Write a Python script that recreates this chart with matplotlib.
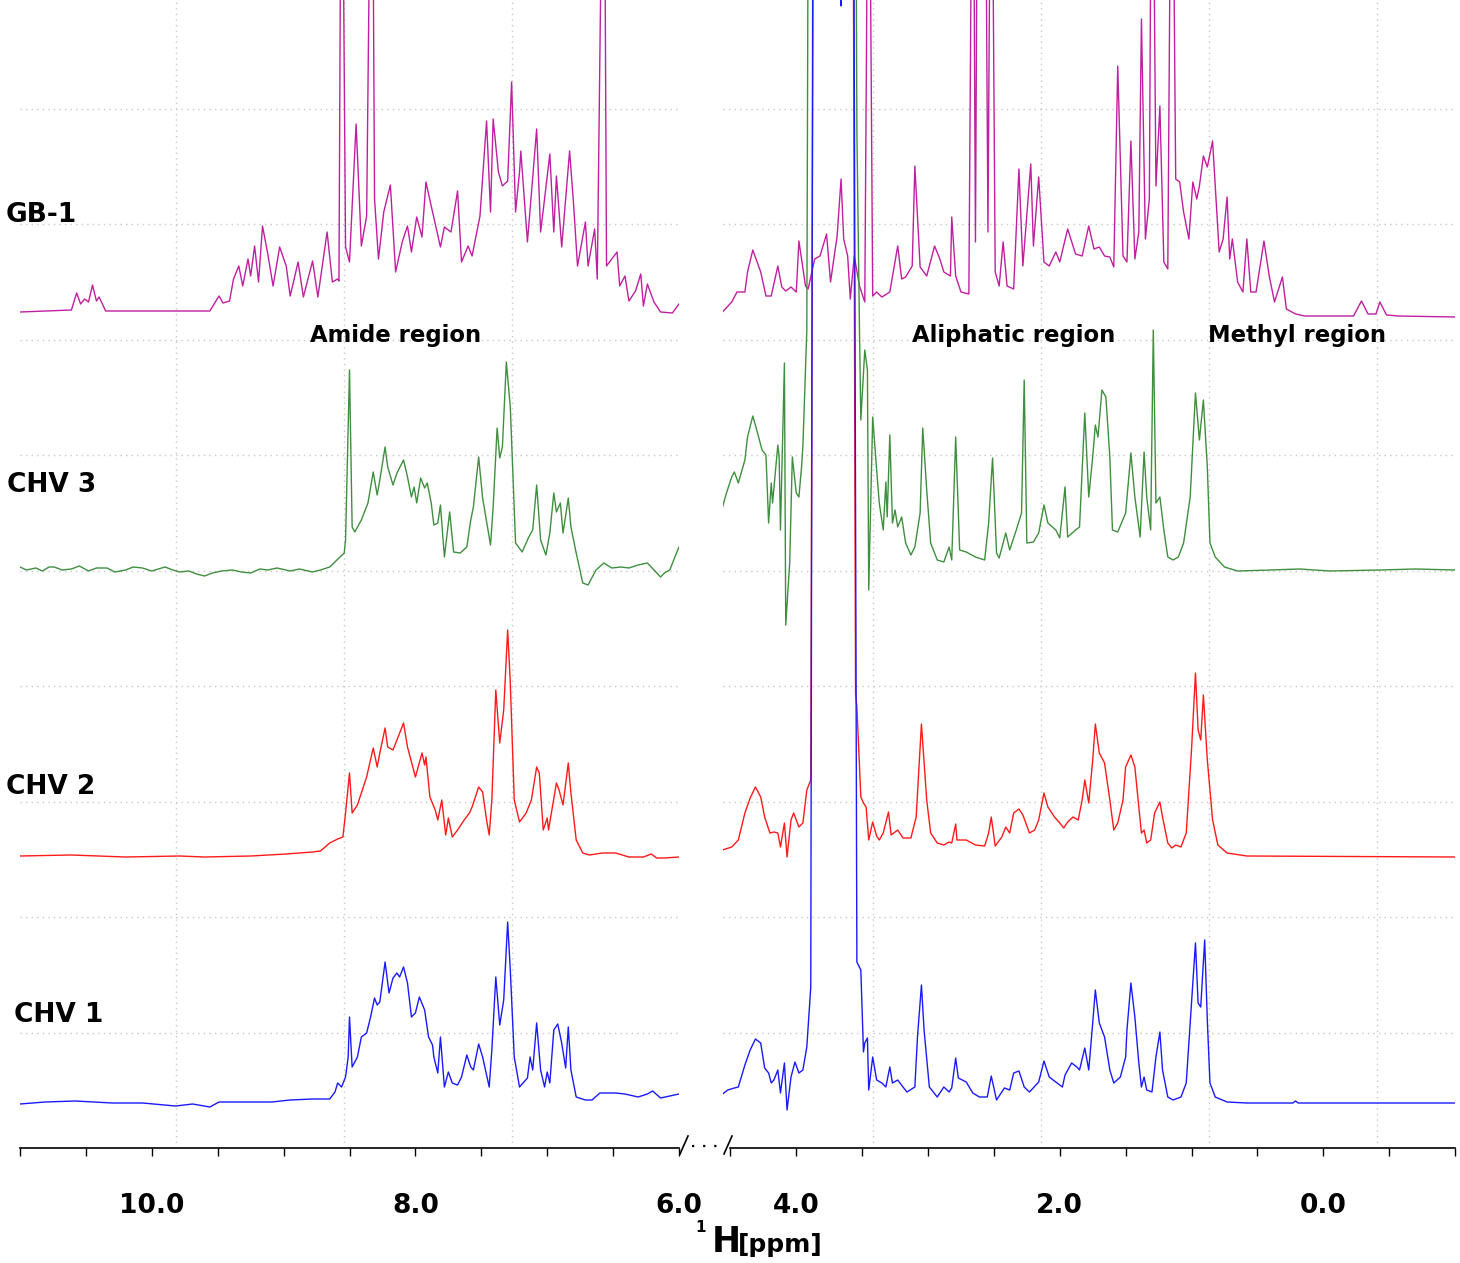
import numpy as np
import matplotlib
matplotlib.use('Agg')
import matplotlib.pyplot as plt
from matplotlib.lines import Line2D

# stacked 1H spectra: label, colour, vertical offset of the baseline
names = ['GB-1', 'CHV 3', 'CHV 2', 'CHV 1']
colors = ['#bf1fa0', '#3f8f3f', '#ff1a1a', '#1a1aff']
offsets = [836, 578, 292, 45]

# (ppm, intensity), amide side (11.0 - 6.0 ppm)
gb1_amide = [(11.0, 0), (10.61, 2), (10.57, 19), (10.54, 8), (10.51, 13), (10.48, 10), (10.45, 27),
             (10.42, 11), (10.40, 15), (10.35, 1), (9.56, 1), (9.49, 16), (9.46, 9), (9.41, 11),
             (9.38, 33), (9.34, 46), (9.31, 26), (9.27, 53), (9.25, 36), (9.22, 66), (9.19, 30),
             (9.16, 86), (9.12, 58), (9.08, 26), (9.03, 65), (8.98, 46), (8.95, 16), (8.89, 50),
             (8.85, 15), (8.78, 51), (8.74, 15), (8.67, 80), (8.63, 30), (8.59, 33), (8.58, 31),
             (8.56, 600), (8.53, 65), (8.50, 50), (8.45, 188), (8.41, 66), (8.37, 96), (8.33, 600),
             (8.31, 113), (8.28, 53), (8.24, 100), (8.19, 127), (8.15, 40), (8.10, 70), (8.06, 86),
             (8.03, 60), (7.99, 95), (7.95, 75), (7.92, 130), (7.88, 106), (7.81, 65), (7.78, 85),
             (7.73, 80), (7.68, 121), (7.65, 50), (7.60, 66), (7.57, 56), (7.51, 96), (7.46, 191),
             (7.43, 100), (7.41, 193), (7.37, 140), (7.34, 126), (7.30, 131), (7.27, 230), (7.24, 100),
             (7.21, 140), (7.20, 161), (7.15, 70), (7.08, 183), (7.05, 80), (7.02, 113), (6.98, 158),
             (6.95, 80), (6.93, 136), (6.89, 65), (6.83, 161), (6.80, 108), (6.77, 46), (6.71, 90),
             (6.69, 46), (6.64, 83), (6.62, 33), (6.57, 600), (6.55, 46), (6.47, 60), (6.45, 26),
             (6.41, 36), (6.38, 11), (6.33, 21), (6.29, 38), (6.27, 6), (6.24, 28), (6.19, 10),
             (6.14, 0), (6.05, -1), (6.0, 8)]

chv3_amide = [(11.0, 3), (10.95, 0), (10.88, 2), (10.83, -1), (10.78, 3), (10.74, 3), (10.68, 0),
              (10.61, 1), (10.55, 4), (10.48, -1), (10.42, 2), (10.34, 2), (10.28, -2), (10.20, 0),
              (10.14, 3), (10.07, 2), (10.00, -1), (9.95, 1), (9.90, 3), (9.84, 0), (9.79, -2),
              (9.72, -1), (9.66, -4), (9.60, -6), (9.54, -3), (9.47, -1), (9.39, 0), (9.32, -2),
              (9.25, -3), (9.18, 1), (9.12, 0), (9.05, 2), (8.95, -1), (8.88, 1), (8.78, -2),
              (8.72, 0), (8.65, 3), (8.58, 12), (8.54, 17), (8.53, 30), (8.50, 200), (8.48, 43),
              (8.46, 38), (8.41, 50), (8.36, 67), (8.32, 98), (8.29, 75), (8.27, 90), (8.23, 123),
              (8.21, 103), (8.17, 85), (8.14, 97), (8.09, 110), (8.06, 93), (8.03, 73), (8.01, 83),
              (7.99, 67), (7.96, 92), (7.93, 82), (7.91, 87), (7.88, 67), (7.86, 45), (7.83, 47),
              (7.81, 65), (7.78, 13), (7.74, 58), (7.71, 18), (7.66, 17), (7.61, 23), (7.58, 50),
              (7.56, 63), (7.52, 113), (7.49, 72), (7.43, 25), (7.41, 63), (7.38, 142), (7.36, 112),
              (7.34, 123), (7.31, 208), (7.28, 163), (7.24, 27), (7.19, 18), (7.14, 33), (7.11, 40),
              (7.08, 85), (7.05, 30), (7.01, 15), (6.98, 37), (6.95, 77), (6.93, 58), (6.90, 67),
              (6.88, 37), (6.84, 72), (6.82, 43), (6.78, 17), (6.73, -13), (6.69, -15), (6.63, 0),
              (6.57, 7), (6.51, 2), (6.44, 3), (6.38, 2), (6.31, 5), (6.24, 7), (6.19, 0),
              (6.14, -7), (6.11, -3), (6.07, 0), (6.04, 10), (6.0, 23)]

chv2_amide = [(11.0, 0), (10.61, 1), (10.20, -1), (9.79, 0), (9.60, -1), (9.25, 0), (8.98, 2),
              (8.78, 4), (8.72, 5), (8.65, 13), (8.59, 17), (8.55, 19), (8.53, 43), (8.50, 83),
              (8.48, 43), (8.44, 51), (8.41, 63), (8.37, 79), (8.32, 108), (8.29, 89), (8.27, 103),
              (8.23, 128), (8.21, 109), (8.17, 106), (8.14, 116), (8.09, 133), (8.06, 109),
              (8.02, 89), (8.00, 79), (7.95, 103), (7.93, 91), (7.92, 99), (7.89, 59), (7.85, 46),
              (7.83, 36), (7.80, 56), (7.77, 21), (7.75, 38), (7.72, 19), (7.68, 26), (7.63, 36),
              (7.59, 43), (7.57, 49), (7.52, 69), (7.49, 64), (7.46, 36), (7.44, 21), (7.42, 56),
              (7.39, 166), (7.36, 113), (7.33, 146), (7.30, 226), (7.28, 173), (7.25, 56),
              (7.21, 34), (7.16, 43), (7.12, 56), (7.08, 89), (7.06, 83), (7.03, 26), (7.00, 38),
              (6.99, 26), (6.93, 73), (6.91, 66), (6.88, 51), (6.84, 93), (6.82, 63), (6.78, 16),
              (6.73, 3), (6.68, 1), (6.58, 3), (6.48, 3), (6.38, -1), (6.27, -1), (6.21, 2),
              (6.17, -2), (6.11, -2), (6.0, -1)]

chv1_amide = [(11.0, -1), (10.81, 1), (10.58, 2), (10.30, 0), (10.07, 0), (9.82, -3), (9.69, -1),
              (9.56, -4), (9.49, 1), (9.25, 1), (9.09, 1), (8.95, 3), (8.78, 4), (8.65, 4),
              (8.61, 11), (8.59, 20), (8.56, 16), (8.53, 26), (8.51, 46), (8.50, 86), (8.48, 36),
              (8.44, 46), (8.41, 66), (8.37, 70), (8.34, 86), (8.31, 105), (8.29, 98), (8.27, 101),
              (8.23, 141), (8.20, 110), (8.17, 125), (8.14, 130), (8.12, 126), (8.09, 136),
              (8.06, 120), (8.03, 86), (8.00, 90), (7.97, 106), (7.93, 93), (7.90, 66), (7.87, 58),
              (7.86, 46), (7.83, 30), (7.81, 66), (7.78, 16), (7.75, 31), (7.72, 20), (7.68, 18),
              (7.65, 26), (7.61, 48), (7.58, 36), (7.56, 33), (7.52, 59), (7.49, 46), (7.44, 16),
              (7.42, 53), (7.39, 126), (7.36, 78), (7.33, 103), (7.30, 181), (7.28, 133),
              (7.25, 46), (7.21, 16), (7.15, 25), (7.13, 46), (7.11, 33), (7.08, 80), (7.05, 33),
              (7.02, 16), (7.00, 31), (6.98, 20), (6.95, 73), (6.92, 79), (6.89, 60), (6.86, 35),
              (6.84, 76), (6.82, 33), (6.78, 6), (6.71, 3), (6.66, 3), (6.60, 10), (6.48, 10),
              (6.41, 9), (6.31, 6), (6.24, 9), (6.20, 12), (6.14, 5), (6.07, 7), (6.0, 9)]

# aliphatic / methyl side (4.56 - -1.0 ppm)
gb1_aliph = [(4.56, 0), (4.49, 10), (4.45, 20), (4.39, 20), (4.37, 40), (4.33, 62), (4.27, 40),
             (4.23, 16), (4.19, 16), (4.14, 46), (4.11, 25), (4.08, 21), (4.04, 25), (4.00, 20),
             (3.98, 71), (3.93, 26), (3.91, 23), (3.86, 53), (3.82, 56), (3.77, 78), (3.74, 30),
             (3.69, 76), (3.66, 133), (3.64, 73), (3.61, 56), (3.59, 13), (3.56, 56), (3.52, 26),
             (3.48, 10), (3.45, 600), (3.42, 16), (3.39, 20), (3.35, 15), (3.29, 20), (3.23, 66),
             (3.20, 33), (3.17, 35), (3.12, 46), (3.10, 146), (3.06, 45), (3.01, 36), (2.95, 66),
             (2.91, 53), (2.88, 40), (2.83, 36), (2.82, 95), (2.79, 36), (2.75, 20), (2.69, 18),
             (2.66, 600), (2.64, 70), (2.62, 600), (2.57, 600), (2.545, 80), (2.52, 600),
             (2.49, 40), (2.46, 26), (2.43, 70), (2.40, 26), (2.35, 23), (2.31, 143), (2.28, 46),
             (2.22, 148), (2.20, 66), (2.16, 135), (2.12, 50), (2.08, 46), (2.03, 60), (2.00, 50),
             (1.94, 83), (1.88, 58), (1.83, 56), (1.78, 86), (1.74, 63), (1.70, 65), (1.66, 56),
             (1.62, 55), (1.59, 45), (1.56, 246), (1.52, 56), (1.49, 50), (1.46, 171), (1.43, 53),
             (1.40, 80), (1.38, 293), (1.35, 73), (1.32, 113), (1.30, 600), (1.27, 126),
             (1.24, 206), (1.21, 50), (1.18, 43), (1.15, 600), (1.12, 133), (1.09, 130),
             (1.06, 100), (1.02, 73), (0.99, 130), (0.96, 113), (0.94, 126), (0.91, 156),
             (0.88, 145), (0.84, 171), (0.82, 126), (0.79, 60), (0.76, 73), (0.73, 115),
             (0.71, 53), (0.69, 73), (0.65, 30), (0.61, 20), (0.58, 73), (0.55, 20), (0.51, 20),
             (0.45, 71), (0.41, 36), (0.37, 10), (0.31, 35), (0.28, 3), (0.21, -2), (0.14, -4),
             (-0.23, -4), (-0.29, 11), (-0.34, -2), (-0.40, -2), (-0.43, 10), (-0.48, -3),
             (-0.57, -4), (-1.0, -5)]

chv3_aliph = [(4.56, 63), (4.53, 77), (4.49, 93), (4.47, 98), (4.44, 87), (4.39, 110), (4.37, 133),
              (4.33, 154), (4.30, 140), (4.26, 120), (4.23, 115), (4.21, 47), (4.19, 87),
              (4.18, 67), (4.14, 125), (4.13, 113), (4.12, 40), (4.09, 207), (4.08, -55),
              (4.05, 7), (4.03, 113), (4.00, 77), (3.98, 73), (3.96, 103), (3.95, 123),
              (3.92, 240), (3.89, 1500), (3.57, 1500), (3.54, 440), (3.52, 237), (3.51, 150),
              (3.48, 220), (3.46, 200), (3.45, -20), (3.42, 153), (3.39, 100), (3.37, 67),
              (3.34, 40), (3.32, 88), (3.31, 53), (3.29, 135), (3.27, 47), (3.25, 60), (3.23, 43),
              (3.20, 53), (3.17, 27), (3.13, 15), (3.10, 23), (3.06, 57), (3.04, 142), (3.01, 80),
              (2.98, 27), (2.93, 10), (2.88, 8), (2.84, 23), (2.82, 10), (2.79, 133), (2.76, 20),
              (2.71, 18), (2.64, 13), (2.57, 10), (2.54, 47), (2.51, 112), (2.48, 17), (2.46, 12),
              (2.41, 37), (2.38, 20), (2.33, 40), (2.29, 57), (2.27, 190), (2.25, 27), (2.20, 28),
              (2.16, 37), (2.12, 65), (2.09, 47), (2.03, 40), (2.00, 32), (1.96, 83), (1.94, 33),
              (1.88, 40), (1.85, 43), (1.81, 157), (1.78, 73), (1.75, 113), (1.73, 145),
              (1.71, 133), (1.68, 180), (1.65, 173), (1.62, 113), (1.60, 40), (1.56, 38),
              (1.50, 57), (1.46, 117), (1.43, 73), (1.39, 33), (1.36, 118), (1.34, 73), (1.31, 40),
              (1.29, 240), (1.27, 67), (1.24, 73), (1.21, 40), (1.18, 13), (1.14, 10), (1.10, 13),
              (1.06, 27), (1.01, 73), (0.97, 177), (0.94, 130), (0.91, 170), (0.88, 103),
              (0.86, 27), (0.82, 13), (0.75, 3), (0.65, -1), (0.40, 0), (0.18, 1), (-0.05, -1),
              (-0.43, 0), (-0.70, 1), (-1.0, 0)]

chv2_aliph = [(4.56, 6), (4.49, 9), (4.44, 16), (4.39, 43), (4.35, 58), (4.31, 69), (4.27, 59),
              (4.24, 39), (4.20, 23), (4.17, 24), (4.14, 23), (4.12, 9), (4.09, 33), (4.07, -1),
              (4.04, 36), (4.02, 43), (3.98, 29), (3.95, 33), (3.92, 66), (3.89, 76), (3.86, 1500),
              (3.58, 1500), (3.55, 163), (3.54, 149), (3.51, 59), (3.49, 53), (3.47, 49),
              (3.45, 16), (3.42, 34), (3.39, 20), (3.37, 16), (3.34, 23), (3.30, 44), (3.28, 21),
              (3.23, 26), (3.19, 18), (3.13, 18), (3.09, 39), (3.05, 132), (3.01, 56), (2.98, 23),
              (2.93, 13), (2.88, 11), (2.84, 14), (2.82, 13), (2.79, 32), (2.78, 16), (2.71, 16),
              (2.64, 11), (2.57, 10), (2.54, 23), (2.52, 39), (2.49, 10), (2.44, 19), (2.41, 29),
              (2.38, 23), (2.35, 43), (2.31, 47), (2.28, 41), (2.23, 23), (2.19, 26), (2.16, 36),
              (2.12, 63), (2.09, 49), (2.04, 39), (2.00, 33), (1.97, 28), (1.94, 34), (1.90, 39),
              (1.86, 36), (1.83, 56), (1.81, 76), (1.78, 53), (1.75, 96), (1.73, 132), (1.70, 103),
              (1.66, 93), (1.62, 56), (1.59, 26), (1.56, 33), (1.52, 56), (1.50, 89), (1.46, 101),
              (1.43, 89), (1.40, 49), (1.38, 23), (1.36, 26), (1.34, 13), (1.31, 16), (1.28, 43),
              (1.24, 54), (1.22, 39), (1.18, 13), (1.15, 8), (1.12, 11), (1.08, 9), (1.04, 23),
              (1.00, 106), (0.97, 183), (0.95, 126), (0.93, 116), (0.91, 161), (0.88, 96),
              (0.84, 36), (0.80, 11), (0.73, 3), (0.58, 0), (-1.0, -1)]

chv1_aliph = [(4.56, 9), (4.52, 13), (4.47, 15), (4.44, 16), (4.39, 38), (4.35, 53), (4.31, 64),
              (4.27, 60), (4.24, 35), (4.21, 30), (4.19, 20), (4.17, 23), (4.14, 33), (4.12, 10),
              (4.09, 40), (4.07, -7), (4.04, 26), (4.01, 41), (3.98, 30), (3.95, 33), (3.92, 56),
              (3.89, 116), (3.87, 1500), (3.67, 1500), (3.66, 1097), (3.65, 1500), (3.57, 1500),
              (3.54, 141), (3.51, 133), (3.49, 51), (3.48, 60), (3.46, 65), (3.45, 13), (3.42, 46),
              (3.39, 23), (3.35, 20), (3.32, 16), (3.29, 36), (3.27, 20), (3.23, 23), (3.19, 16),
              (3.16, 11), (3.10, 16), (3.08, 66), (3.05, 118), (3.03, 73), (2.99, 16), (2.93, 6),
              (2.88, 16), (2.84, 11), (2.82, 15), (2.79, 45), (2.77, 25), (2.71, 21), (2.66, 10),
              (2.61, 6), (2.55, 6), (2.52, 27), (2.48, 3), (2.42, 15), (2.38, 13), (2.35, 30),
              (2.31, 32), (2.27, 16), (2.23, 11), (2.16, 21), (2.12, 42), (2.08, 26), (2.03, 21),
              (1.98, 16), (1.96, 28), (1.91, 40), (1.87, 36), (1.85, 33), (1.81, 55), (1.78, 33),
              (1.75, 80), (1.73, 113), (1.70, 80), (1.66, 66), (1.62, 33), (1.59, 20), (1.54, 26),
              (1.50, 46), (1.49, 73), (1.46, 120), (1.43, 86), (1.40, 40), (1.38, 16), (1.36, 26),
              (1.34, 13), (1.30, 11), (1.27, 46), (1.24, 71), (1.22, 33), (1.18, 6), (1.14, 3),
              (1.08, 6), (1.04, 20), (1.00, 100), (0.97, 160), (0.95, 100), (0.93, 96), (0.90, 163),
              (0.88, 83), (0.86, 20), (0.82, 6), (0.73, 1), (0.58, 0), (0.23, 0), (0.21, 2),
              (0.19, 0), (-1.0, 0)]

amide_traces = [gb1_amide, chv3_amide, chv2_amide, chv1_amide]
aliph_traces = [gb1_aliph, chv3_aliph, chv2_aliph, chv1_aliph]

left_ticks = [11.0, 10.5, 10.0, 9.5, 9.0, 8.5, 8.0, 7.5, 7.0, 6.5, 6.0]
left_labels = ['', '', '10.0', '', '', '', '8.0', '', '', '', '6.0']
right_ticks = [4.5, 4.0, 3.5, 3.0, 2.5, 2.0, 1.5, 1.0, 0.5, 0.0, -0.5, -1.0]
right_labels = ['', '4.0', '', '', '', '2.0', '', '', '', '0.0', '', '']
left_vgrid = [9.82, 8.54, 7.27]
right_vgrid = [3.42, 2.14, 0.87, -0.41]

region_labels = ['Amide region', 'Aliphatic region', 'Methyl region']

W, H = 1460, 1263
fig = plt.figure(figsize=(W / 100, H / 100), dpi=100)


def fx(px):
    return px / W


def fy(py):
    return 1 - py / H


ax_l = fig.add_axes([fx(20), fy(1148), fx(659), 1148 / H])
ax_r = fig.add_axes([fx(722.5), fy(1148), fx(732.5), 1148 / H])

grid_kw = dict(color='#c8c8c8', linestyle=(0, (1, 3)), linewidth=1.0)
for ax, traces, xlim, ticks, labels, vg in [
        (ax_l, amide_traces, (11.0, 6.0), left_ticks, left_labels, left_vgrid),
        (ax_r, aliph_traces, (4.56, -1.0), right_ticks, right_labels, right_vgrid)]:
    for i in [3, 2, 1, 0]:
        pts = np.array(traces[i], dtype=float)
        ax.plot(pts[:, 0], pts[:, 1] + offsets[i], color=colors[i], lw=1.0,
                solid_joinstyle='round', zorder=3 + i)
    ax.set_xlim(*xlim)
    ax.set_ylim(0, 1148)
    ax.set_xticks(ticks)
    ax.set_xticklabels(labels, fontsize=19, fontweight='bold')
    ax.tick_params(axis='x', direction='out', length=5.5, width=1, pad=27)
    ax.set_yticks(np.arange(1, 10) * 115.5)
    ax.tick_params(axis='y', length=0, labelleft=False)
    ax.grid(axis='y', **grid_kw)
    for v in vg:
        ax.axvline(v, zorder=1, **grid_kw)
    for s in ['top', 'left', 'right']:
        ax.spines[s].set_visible(False)
    ax.spines['bottom'].set_linewidth(1.2)
    ax.patch.set_alpha(0)

ax_r.spines['bottom'].set_bounds(4.5, -1.0)

# axis break marker  /....../
for x0 in [680, 724]:
    fig.add_artist(Line2D([fx(x0), fx(x0 + 8)], [fy(1154), fy(1136)], color='black', lw=1.2))
fig.add_artist(Line2D([fx(692), fx(721)], [fy(1146), fy(1146)], color='black',
                      lw=1.6, linestyle=(0, (1, 4))))

# trace labels
label_pos = [(6, 222), (7, 492), (6, 794), (14, 1022)]
for name, (px, py) in zip(names, label_pos):
    fig.text(fx(px), fy(py), name, fontsize=19, fontweight='bold', va='baseline', ha='left')

# region labels
for txt, px in zip(region_labels, [396, 1014, 1297]):
    fig.text(fx(px), fy(342), txt, fontsize=16.4, fontweight='bold', va='baseline', ha='center')

# x axis title: 1H[ppm]
fig.text(fx(695), fy(1232), '1', fontsize=11, fontweight='bold', va='baseline', ha='left')
fig.text(fx(712), fy(1252), 'H', fontsize=25, fontweight='bold', va='baseline', ha='left')
fig.text(fx(738), fy(1252), '[ppm]', fontsize=18, fontweight='bold', va='baseline', ha='left')

fig.savefig('out.png', dpi=100)
